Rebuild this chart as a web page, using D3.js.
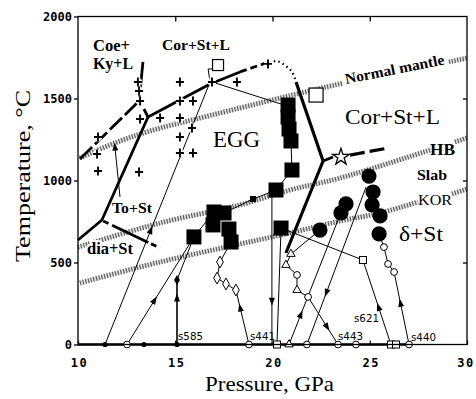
<!DOCTYPE html>
<html><head><meta charset="utf-8">
<script src="https://cdn.jsdelivr.net/npm/d3@7"></script>
<style>body{margin:0;background:#fff}svg{display:block}</style>
</head><body>
<svg id="chart" width="476" height="399"></svg>
<script>
// ---- axis ticks ----
const pTicks = [10, 15, 20, 25, 30];
const tTicks = [0, 500, 1000, 1500, 2000];

// ---- geotherms [P GPa, T °C] ----
const normalMantle = [[10.1,1137],[11.9,1229],[13.7,1302],[16.27,1381],[18.33,1442],[20.39,1503],[23.62,1594]];
const normalMantleEnd = [[29.07,1723],[30,1747]];
const hbGeotherm = [[10.0,594],[14.22,741],[18.33,851],[20.9,942],[23.47,1015],[28.1,1186]];
const hbGeothermEnd = [[29.38,1235],[30,1259]];
const korGeotherm = [[10.1,375],[14.22,503],[18.33,613],[20.9,680],[23.47,753],[25.53,802],[27.48,869]];
const korGeothermEnd = [[29.23,918],[30,948]];

// ---- phase boundaries ----
const coeKyLSolid = [[13.34,1723],[13.14,1485]];
const coeKyLDashed = [[10.1,1131],[13.14,1485]];
const tripleStub = [[13.39,1436],[13.6,1387]];
const toStBoundary = [[13.6,1387],[11.23,759],[10.0,637]];
const diaStDashed = [[11.29,753],[14.22,588]];
const meltSolid = [[13.6,1387],[16.79,1588],[18.33,1662]];
const meltDashed = [[18.33,1662],[19.67,1717]];
const meltDotted = [[19.82,1723],[20.28,1726],[20.69,1698],[21.0,1662],[21.16,1619]];
const eggBoundary = [[21.21,1601],[22.6,1119],[20.69,558]];
const starStub = [[22.6,1119],[23.11,1143]];
const starDashed = [[23.98,1155],[25.94,1198]];
const toStThin = [[11.9,1204],[12.16,899]];

// ---- experimental P-T paths ----
const path1 = [[11.39,0],[16.79,1601]];
const path1Top = [[16.79,1601],[16.69,1680],[16.94,1680]];
const path2 = [[16.89,1601],[20.6,1460]];
const s585 = [[15.09,0],[15.09,393],[15.96,656]];
const path3 = [[12.52,0],[15.96,656]];
const eggRunA = [[15.96,656],[16.99,808]];
const eggRunB = [[17.51,802],[19.0,887],[20.18,942],[21.0,1064],[20.95,1241]];
const quenchA = [[19.97,942],[19.97,0]];
const quenchB = [[20.44,710],[20.23,0]];
const s441 = [[17.87,625],[17.3,503],[17.15,405],[17.61,369],[18.12,332],[18.79,0]];
const s621 = [[20.44,710],[24.65,515],[26.09,0]];
const s440 = [[25.48,674],[25.73,594],[25.94,491],[26.25,442],[27.02,0]];
const s443 = [[22.44,698],[20.95,552],[20.69,485],[21.26,424],[21.26,332],[21.83,290],[23.37,0]];
const runA = [[20.85,0],[23.47,790]];
const runC = [[21.77,0],[24.81,960]];
const roomT = [[10,0],[27.02,0]];

// arrows: path, fraction along it, direction (+1 toward the end)
const arrows = [
  {path: path1, f: 0.435, dir: 1},
  {path: [[15.09,0],[15.09,393]], f: 0.72, dir: 1},
  {path: path3, f: 0.41, dir: 1},
  {path: [[18.12,332],[18.79,0]], f: 0.33, dir: -1},
  {path: [[19.97,942],[19.97,0]], f: 0.72, dir: 1},
  {path: [[24.65,515],[26.09,0]], f: 0.56, dir: -1},
  {path: [[26.25,442],[27.02,0]], f: 0.43, dir: -1},
  {path: [[21.83,290],[23.37,0]], f: 0.63, dir: 1},
  {path: runA, f: 0.23, dir: 1},
  {path: runC, f: 0.33, dir: -1},
  {path: [[12.16,899],[11.9,1204]], f: 1.0, dir: 1}
];

// ---- markers ----
const crosses = [[13.08,1601],[13.14,1546],[13.19,1485],[13.19,1375],[14.22,1381],[11.03,1265],[10.98,1162],
  [11.03,1058],[13.14,1052],[15.24,1601],[15.24,1485],[15.91,1485],[15.24,1381],[15.24,1265],[15.24,1168],
  [15.91,1168],[15.86,1320],[16.89,1601],[18.17,1601],[19.77,1711]];
const bigSquares = [[15.96,656],[16.99,808],[17.51,802],[16.94,729],[17.76,704],[17.87,625],[20.18,942],
  [20.44,710],[21.0,1064],[20.95,1241],[20.85,1314],[20.8,1387],[20.8,1460]];
const smallFilledSquares = [[19.0,887]];
const bigCircles = [[22.44,698],[23.52,802],[23.78,857],[24.96,1027],[25.17,930],[25.12,851],[25.53,784],[25.48,674]];
const openCircles = [[25.73,594],[25.94,491],[26.25,442],[21.26,424],[21.83,290],
  [12.52,0],[18.79,0],[21.77,0],[23.37,0],[24.29,0],[27.02,0]];
const openTriangles = [[20.95,552],[20.69,485],[21.26,332],[20.85,0]];
const openDiamonds = [[17.3,503],[17.15,405],[17.61,369],[18.12,332]];
const openSquaresSmall = [[24.65,515],[26.09,0],[26.35,0],[20.23,0]];
const openSquaresLarge = [[17.2,1704,11],[22.24,1521,14]];
const filledDots = [[11.39,0],[13.39,0],[15.09,0]];
const filledDiamonds = [[15.09,393]];
const stars = [[23.52,1143]];

// ---- drawing ----
const W = 476, H = 399;
const svg = d3.select('#chart');
svg.append('rect').attr('width', W).attr('height', H).attr('fill', '#fff');

const x = d3.scaleLinear().domain([10, 30]).range([78, 467]);
const y = d3.scaleLinear().domain([0, 2000]).range([344.5, 16.5]);
const line = d3.line().x(d => x(d[0])).y(d => y(d[1]));
const curve = d3.line().x(d => x(d[0])).y(d => y(d[1])).curve(d3.curveCatmullRom);

const g = svg.append('g');

// hatched geotherm bands
function band(data) {
  g.append('path').datum(data).attr('d', curve).attr('fill', 'none')
    .attr('stroke', '#e2e2e2').attr('stroke-width', 4);
  g.append('path').datum(data).attr('d', curve).attr('fill', 'none')
    .attr('stroke', '#5e5e5e').attr('stroke-width', 5).attr('stroke-dasharray', '1.2,1.6');
}
[normalMantle, normalMantleEnd, hbGeotherm, hbGeothermEnd, korGeotherm, korGeothermEnd].forEach(band);

function stroke(data, w, dash, gen) {
  const p = g.append('path').datum(data).attr('d', gen || line).attr('fill', 'none')
    .attr('stroke', '#000').attr('stroke-width', w).attr('stroke-linecap', 'butt')
    .attr('stroke-linejoin', 'round');
  if (dash) p.attr('stroke-dasharray', dash);
  return p;
}

// thin run paths
[path1, path1Top, path2, path3, eggRunA, eggRunB, quenchA, quenchB, s441, s621, s440, s443, runA, runC, toStThin]
  .forEach(d => stroke(d, 1));
stroke([[15.09,0],[15.09,393]], 1.6);
stroke([[15.09,393],[15.96,656]], 1);
stroke(roomT, 2.6);

// phase boundaries
stroke(coeKyLSolid, 2.8);
stroke(coeKyLDashed, 2.8, '17,4');
stroke(tripleStub, 2.8);
stroke(toStBoundary, 2.8);
stroke(diaStDashed, 2.8, '6,4,40,3');
stroke(meltSolid, 2.8);
stroke(meltDashed, 2.8, '7,4');
stroke(meltDotted, 2.2, '1.5,3.2', curve);
stroke(eggBoundary, 3.2);
stroke(starStub, 2.8);
stroke(starDashed, 3.2, '15,5');

// arrows
arrows.forEach(a => {
  const [p0, p1] = a.path;
  const px = x(p0[0]) + (x(p1[0]) - x(p0[0])) * a.f;
  const py = y(p0[1]) + (y(p1[1]) - y(p0[1])) * a.f;
  let ang = Math.atan2(y(p1[1]) - y(p0[1]), x(p1[0]) - x(p0[0])) * 180 / Math.PI;
  if (a.dir < 0) ang += 180;
  g.append('path').attr('d', 'M4.5,0L-3.5,-3L-3.5,3Z').attr('fill', '#000')
    .attr('transform', `translate(${px},${py}) rotate(${ang})`);
});

// crosses with white halo
const crossPath = 'M-4,0H4M0,-4.5V4.5';
g.selectAll('.ch').data(crosses).join('path').attr('d', crossPath)
  .attr('transform', d => `translate(${x(d[0])},${y(d[1])})`)
  .attr('stroke', '#fff').attr('stroke-width', 5).attr('fill', 'none');
g.selectAll('.cr').data(crosses).join('path').attr('d', crossPath)
  .attr('transform', d => `translate(${x(d[0])},${y(d[1])})`)
  .attr('stroke', '#000').attr('stroke-width', 1.9).attr('fill', 'none');

const sym = (type, size) => d3.symbol().type(type).size(size)();

g.selectAll('.bs').data(bigSquares).join('rect')
  .attr('x', d => x(d[0]) - 7.5).attr('y', d => y(d[1]) - 7.5).attr('width', 15).attr('height', 15)
  .attr('fill', '#000');
g.selectAll('.sfs').data(smallFilledSquares).join('rect')
  .attr('x', d => x(d[0]) - 3).attr('y', d => y(d[1]) - 3).attr('width', 6).attr('height', 6).attr('fill', '#000');
g.selectAll('.bc').data(bigCircles).join('circle')
  .attr('cx', d => x(d[0])).attr('cy', d => y(d[1])).attr('r', 7.6).attr('fill', '#000');
g.selectAll('.oc').data(openCircles).join('circle')
  .attr('cx', d => x(d[0])).attr('cy', d => y(d[1])).attr('r', 3.4)
  .attr('fill', '#fff').attr('stroke', '#000').attr('stroke-width', 1);
g.selectAll('.ot').data(openTriangles).join('path').attr('d', sym(d3.symbolTriangle, 30))
  .attr('transform', d => `translate(${x(d[0])},${y(d[1])})`)
  .attr('fill', '#fff').attr('stroke', '#000').attr('stroke-width', 1);
g.selectAll('.od').data(openDiamonds).join('path').attr('d', sym(d3.symbolDiamond, 40))
  .attr('transform', d => `translate(${x(d[0])},${y(d[1])})`)
  .attr('fill', '#fff').attr('stroke', '#000').attr('stroke-width', 1);
g.selectAll('.oss').data(openSquaresSmall).join('rect')
  .attr('x', d => x(d[0]) - 3.5).attr('y', d => y(d[1]) - 3.5).attr('width', 7).attr('height', 7)
  .attr('fill', '#fff').attr('stroke', '#000').attr('stroke-width', 1);
g.selectAll('.osl').data(openSquaresLarge).join('rect')
  .attr('x', d => x(d[0]) - d[2] / 2).attr('y', d => y(d[1]) - d[2] / 2)
  .attr('width', d => d[2]).attr('height', d => d[2])
  .attr('fill', '#fff').attr('stroke', '#000').attr('stroke-width', 1.2);
g.selectAll('.fd').data(filledDots).join('circle')
  .attr('cx', d => x(d[0])).attr('cy', d => y(d[1])).attr('r', 2.6).attr('fill', '#000');
g.selectAll('.fdi').data(filledDiamonds).join('path').attr('d', sym(d3.symbolDiamond, 30))
  .attr('transform', d => `translate(${x(d[0])},${y(d[1])})`).attr('fill', '#000');
g.selectAll('.st').data(stars).join('path').attr('d', sym(d3.symbolStar, 85))
  .attr('transform', d => `translate(${x(d[0])},${y(d[1])})`)
  .attr('fill', '#fff').attr('stroke', '#000').attr('stroke-width', 1.3);

// frame and axes
svg.append('rect').attr('x', x(10)).attr('y', y(2000)).attr('width', x(30) - x(10)).attr('height', y(0) - y(2000))
  .attr('fill', 'none').attr('stroke', '#000').attr('stroke-width', 1.3);

const monoFont = '"DejaVu Sans Mono", monospace';
const ax = svg.append('g').attr('transform', `translate(${x(10)},0)`)
  .call(d3.axisLeft(y).tickValues(tTicks).tickSize(4).tickPadding(2).tickFormat(d3.format('d')));
ax.select('.domain').remove();
ax.selectAll('line').attr('stroke-width', 1.3);
ax.selectAll('text').attr('font-family', monoFont).attr('font-weight', 'bold').attr('font-size', 12).attr('fill', '#000');

const ar = svg.append('g').attr('transform', `translate(${x(30)},0)`)
  .call(d3.axisRight(y).tickValues([500, 1000, 1500]).tickSize(-4).tickFormat(''));
ar.select('.domain').remove();
ar.selectAll('line').attr('stroke-width', 1.3);

const at = svg.append('g').attr('transform', `translate(0,${y(2000)})`)
  .call(d3.axisTop(x).tickValues([15, 20, 25]).tickSize(-5).tickFormat(''));
at.select('.domain').remove();
at.selectAll('line').attr('stroke-width', 1.3);

const ab = svg.append('g').attr('transform', `translate(0,${y(0)})`)
  .call(d3.axisBottom(x).tickValues(pTicks).tickSizeInner(-4).tickSizeOuter(0).tickPadding(14).tickFormat(d3.format('d')));
ab.select('.domain').remove();
ab.selectAll('line').attr('stroke-width', 1.2);
ab.selectAll('text').attr('font-family', monoFont).attr('font-weight', 'bold').attr('font-size', 12)
  .attr('letter-spacing', 1.5).attr('dx', (d, i, n) => i === n.length - 1 ? -1.5 : 1).attr('fill', '#000');

// axis titles
const serif = '"Liberation Serif", "Times New Roman", serif';
svg.append('text').attr('x', 269.5).attr('y', 391).attr('text-anchor', 'middle')
  .attr('font-family', serif).attr('font-size', 22).attr('textLength', 129).attr('lengthAdjust', 'spacingAndGlyphs')
  .text('Pressure, GPa');
svg.append('text').attr('transform', 'translate(30,176) rotate(-90)').attr('text-anchor', 'middle')
  .attr('font-family', serif).attr('font-size', 22).attr('textLength', 172).attr('lengthAdjust', 'spacingAndGlyphs')
  .text('Temperature, °C');

// field labels
function label(txt, px, py, size, weight, opts = {}) {
  const t = svg.append('text').attr('x', px).attr('y', py).attr('font-family', serif)
    .attr('font-size', size).attr('font-weight', weight).text(txt);
  if (opts.len) t.attr('textLength', opts.len).attr('lengthAdjust', 'spacingAndGlyphs');
  if (opts.halo) t.attr('stroke', '#fff').attr('stroke-width', opts.halo).attr('paint-order', 'stroke');
  if (opts.rot !== undefined) t.attr('transform', `rotate(${opts.rot},${px},${py})`);
  return t;
}
label('Coe+', 93, 51, 16, 'bold', {len: 37});
label('Ky+L', 93, 69, 16, 'bold', {len: 40});
label('Cor+St+L', 162, 50, 15.5, 'bold', {len: 68});
label('EGG', 213, 147, 23, 'normal', {len: 47});
label('Cor+St+L', 345, 124, 22, 'normal', {len: 95});
label('To+St', 112, 213, 15, 'bold', {len: 40});
label('dia+St', 87, 254, 16, 'bold', {len: 46, halo: 4});
label('HB', 430, 155, 16, 'bold', {len: 25});
label('Slab', 417, 180, 15.5, 'bold', {len: 30});
label('KOR', 418, 205, 15.5, 'normal', {len: 34});
label('δ+St', 399, 241, 22, 'normal', {len: 44});

// geotherm name along the band
const a0 = normalMantle[normalMantle.length - 1], a1 = normalMantleEnd[0];
const ang = Math.atan2(y(a1[1]) - y(a0[1]), x(a1[0]) - x(a0[0])) * 180 / Math.PI;
label('Normal mantle', x(a0[0]) + 3, y(a0[1]) + 1, 15, 'bold', {len: 101, rot: ang});

// run labels
const sans = '"DejaVu Sans", sans-serif';
[['s585', 178, 340], ['s441', 250, 340], ['s443', 338, 340], ['s621', 354, 322], ['s440', 411, 341]]
  .forEach(([t, px, py]) => svg.append('text').attr('x', px).attr('y', py).attr('font-family', sans)
    .attr('font-size', 10).attr('textLength', 25).attr('lengthAdjust', 'spacingAndGlyphs').text(t));
</script>
</body></html>
